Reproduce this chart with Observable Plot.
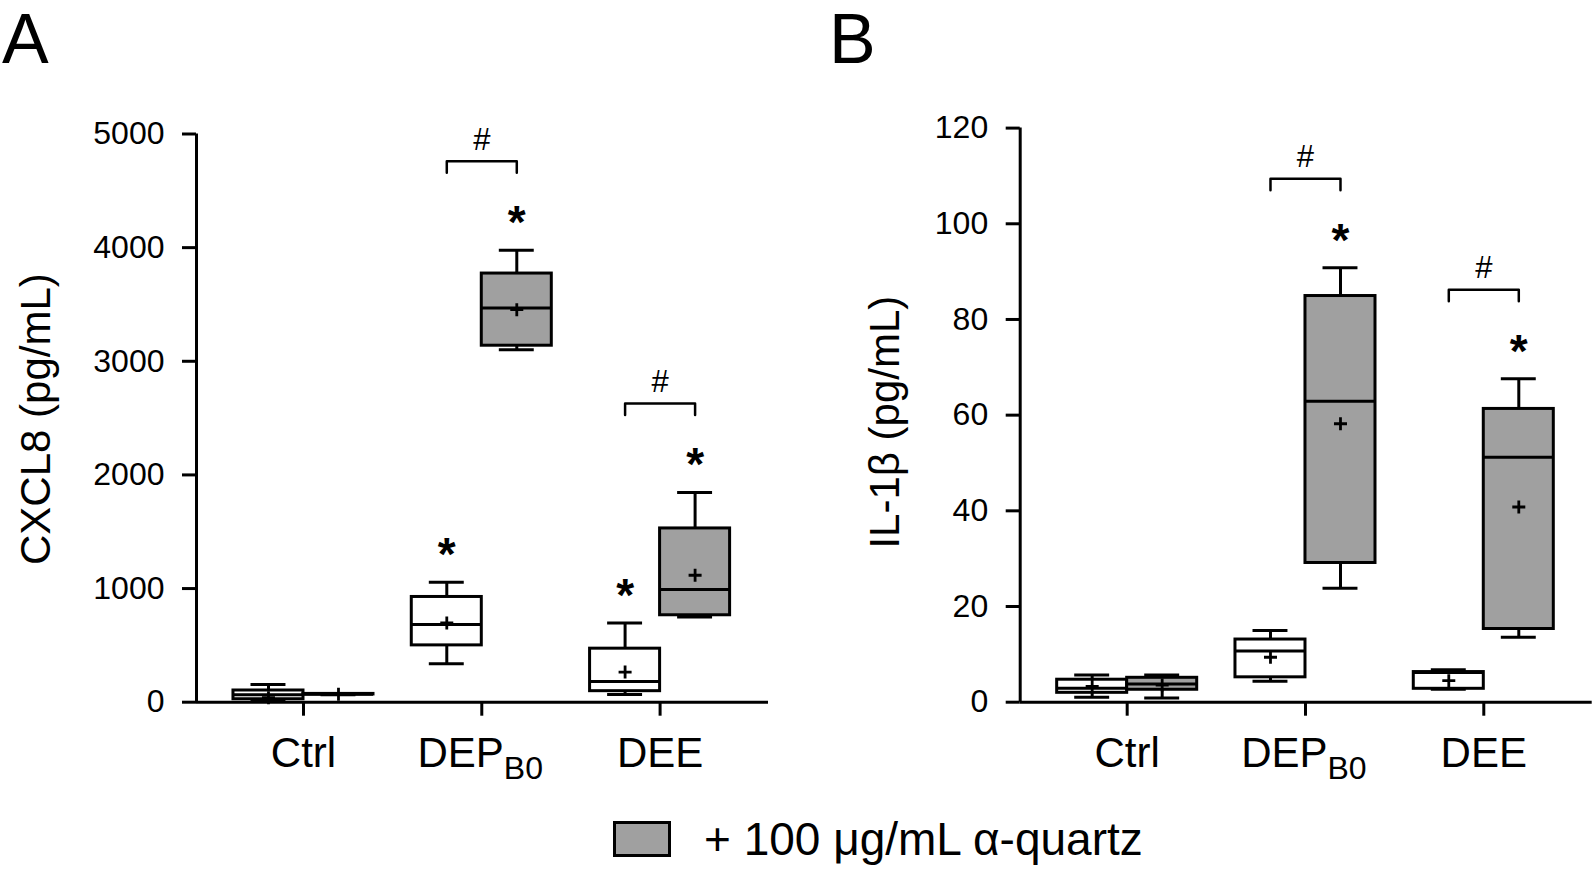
<!DOCTYPE html>
<html><head><meta charset="utf-8">
<script src="https://cdn.jsdelivr.net/npm/d3@7"></script>
<script src="https://cdn.jsdelivr.net/npm/@observablehq/plot@0.6"></script>
<style>
body{margin:0;background:#fff;font-family:"Liberation Sans",Arial,sans-serif;color:#000;}
#wrap{position:relative;width:1594px;height:871px;overflow:hidden;}
.panel{position:absolute;top:0;}
.letter{position:absolute;font-size:70px;line-height:1;color:#000;}
#legend{position:absolute;left:613px;top:815px;display:flex;align-items:center;height:48px;}
.swatch{width:52px;height:30px;border:3px solid #000;background:#a0a0a0;}
.legtext{font-size:46px;margin-left:33px;white-space:nowrap;}
</style></head><body>
<div id="wrap">
  <div id="panelA" class="panel" style="left:0px"></div>
  <div id="panelB" class="panel" style="left:800px"></div>
  <div class="letter" style="left:2px;top:4px">A</div>
  <div class="letter" style="left:829px;top:4px">B</div>
  <div id="legend"><div class="swatch"></div><div class="legtext">+ 100 μg/mL α-quartz</div></div>
</div>
<script>
// ---- data ----
const categories = ["Ctrl", "DEP", "DEE"];
const groupCategory = ["Ctrl", "Ctrl", "DEP", "DEP", "DEE", "DEE"];
const groupTreatment = ["none", "quartz", "none", "quartz", "none", "quartz"];

// CXCL8 (pg/mL)
const cxcl8Min    = [9,   65,  338,  3101, 68,  750];
const cxcl8Q1     = [26,  68,  500,  3137, 97,  765];
const cxcl8Median = [65,  70,  683,  3469, 183, 991];
const cxcl8Q3     = [103, 73,  926,  3772, 471, 1529];
const cxcl8Max    = [156, 76,  1056, 3977, 697, 1846];
const cxcl8Mean   = [40,  71,  697,  3454, 265, 1117];
const cxcl8Star   = [false, false, true, true, true, true];
const cxcl8Hash   = ["DEP", "DEE"];
const cxcl8Ticks  = [0, 1000, 2000, 3000, 4000, 5000];

// IL-1β (pg/mL)
const il1bMin    = [1.05, 0.9, 4.4,  23.8, 2.7, 13.6];
const il1bQ1     = [1.96, 2.6, 5.2,  29.1, 2.8, 15.3];
const il1bMedian = [2.9,  3.8, 10.7, 62.9, 6.2, 51.2];
const il1bQ3     = [4.7,  5.1, 13.1, 84.9, 6.3, 61.3];
const il1bMax    = [5.7,  5.7, 15.0, 90.8, 6.8, 67.6];
const il1bMean   = [3.3,  3.6, 9.4,  58.2, 4.5, 40.8];
const il1bStar   = [false, false, false, true, false, true];
const il1bHash   = ["DEP", "DEE"];
const il1bTicks  = [0, 20, 40, 60, 80, 100, 120];

// ---- layout constants ----
const GRAY = "#a0a0a0";
const FONT = "Liberation Sans, Arial, sans-serif";
const OFF = 0.1963, BOXW = 0.3927, CAPW = 0.196;
const XDOM = [-0.6, 2.608];
const H = 790, MB = 88.3;

const plusSymbol = {
  draw(ctx, size) {
    const r = Math.sqrt(size / Math.PI);
    ctx.moveTo(-r, 0); ctx.lineTo(r, 0);
    ctx.moveTo(0, -r); ctx.lineTo(0, r);
  }
};

function makePanel(o) {
  const rows = groupCategory.map((c, i) => {
    const ci = categories.indexOf(c);
    return {
      cat: c, trt: groupTreatment[i],
      pos: ci + (groupTreatment[i] === "none" ? -OFF : OFF),
      min: o.min[i], q1: o.q1[i], median: o.median[i], q3: o.q3[i], max: o.max[i], mean: o.mean[i],
      star: o.star[i]
    };
  });
  const yMax = o.ticks[o.ticks.length - 1];
  const upp = yMax / (H - o.marginTop - MB); // data units per pixel
  const brackets = [], hashes = [];
  o.hash.forEach(c => {
    const w = rows.find(r => r.cat === c && r.trt === "none");
    const g = rows.find(r => r.cat === c && r.trt === "quartz");
    const base = Math.max(w.max, g.max);
    const top = base + 89 * upp, leg = base + 77.5 * upp;
    brackets.push({id: c, x: w.pos, y: leg}, {id: c, x: w.pos, y: top}, {id: c, x: g.pos, y: top}, {id: c, x: g.pos, y: leg});
    hashes.push({x: (w.pos + g.pos) / 2, y: top});
  });
  const tickLen = 14 * upp;
  return Plot.plot({
    width: o.width, height: H,
    marginLeft: o.marginLeft, marginRight: o.marginRight, marginTop: o.marginTop, marginBottom: MB,
    x: {domain: XDOM, axis: null},
    y: {domain: [0, yMax], axis: null},
    style: {fontFamily: FONT, color: "#000", background: "white", overflow: "visible"},
    marks: [
      Plot.axisY({ticks: o.ticks, tickFormat: d => String(d), tickSize: 14, tickPadding: 18, fontSize: 32, strokeWidth: 3, label: null}),
      Plot.ruleX([XDOM[0]], {strokeWidth: 3}),
      Plot.ruleY([0], {strokeWidth: 3}),
      Plot.ruleX([0, 1, 2], {x: d => d, y1: 0, y2: -tickLen, strokeWidth: 3}),
      // whiskers
      Plot.ruleX(rows, {x: "pos", y1: "q3", y2: "max", strokeWidth: 3}),
      Plot.ruleX(rows, {x: "pos", y1: "min", y2: "q1", strokeWidth: 3}),
      Plot.ruleY(rows, {y: "max", x1: d => d.pos - CAPW / 2, x2: d => d.pos + CAPW / 2, strokeWidth: 3}),
      Plot.ruleY(rows, {y: "min", x1: d => d.pos - CAPW / 2, x2: d => d.pos + CAPW / 2, strokeWidth: 3}),
      // boxes
      Plot.rect(rows.filter(d => d.trt === "none"), {x1: d => d.pos - BOXW / 2, x2: d => d.pos + BOXW / 2, y1: "q1", y2: "q3", fill: "white", stroke: "black", strokeWidth: 3}),
      Plot.rect(rows.filter(d => d.trt === "quartz"), {x1: d => d.pos - BOXW / 2, x2: d => d.pos + BOXW / 2, y1: "q1", y2: "q3", fill: GRAY, stroke: "black", strokeWidth: 3}),
      Plot.ruleY(rows, {y: "median", x1: d => d.pos - BOXW / 2, x2: d => d.pos + BOXW / 2, strokeWidth: 3}),
      Plot.dot(rows, {x: "pos", y: "mean", symbol: plusSymbol, r: 6.5, fill: "none", stroke: "black", strokeWidth: 2.8}),
      // significance
      Plot.text(rows.filter(d => d.star), {x: "pos", y: "max", text: () => "*", fontSize: 46, fontWeight: "bold", dy: -27}),
      Plot.line(brackets, {x: "x", y: "y", z: "id", stroke: "black", strokeWidth: 2.5}),
      Plot.text(hashes, {x: "x", y: "y", text: () => "#", fontSize: 31, dy: -21.5}),
      // x tick labels
      Plot.text(["Ctrl", "DEE"], {x: d => categories.indexOf(d), text: d => d, frameAnchor: "bottom", lineAnchor: "top", dy: 34.5, fontSize: 42}),
      Plot.text(["DEP"], {x: d => categories.indexOf(d), text: d => d, frameAnchor: "bottom", lineAnchor: "top", textAnchor: "end", dx: 22, dy: 34.5, fontSize: 42}),
      Plot.text(["DEP"], {x: d => categories.indexOf(d), text: () => "B0", frameAnchor: "bottom", lineAnchor: "top", textAnchor: "start", dx: 22, dy: 53.6, fontSize: 32}),
      // y label
      Plot.text([o.label], {text: d => d, frameAnchor: "left", textAnchor: "middle", rotate: -90, dx: o.labelDx, dy: o.labelDy, fontSize: 42})
    ]
  });
}

document.getElementById("panelA").append(makePanel({
  min: cxcl8Min, q1: cxcl8Q1, median: cxcl8Median, q3: cxcl8Q3, max: cxcl8Max, mean: cxcl8Mean,
  star: cxcl8Star, hash: cxcl8Hash, ticks: cxcl8Ticks, label: "CXCL8 (pg/mL)",
  width: 800, marginLeft: 196, marginRight: 32, marginTop: 133.5, labelDx: -160, labelDy: 1
}));
document.getElementById("panelB").append(makePanel({
  min: il1bMin, q1: il1bQ1, median: il1bMedian, q3: il1bQ3, max: il1bMax, mean: il1bMean,
  star: il1bStar, hash: il1bHash, ticks: il1bTicks, label: "IL-1β (pg/mL)",
  width: 794, marginLeft: 219.7, marginRight: 2.3, marginTop: 127.6, labelDx: -135, labelDy: 7
}));
</script>
</body></html>
